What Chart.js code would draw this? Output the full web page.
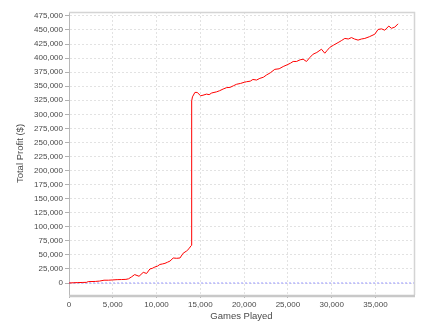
<!DOCTYPE html>
<html>
<head>
<meta charset="utf-8">
<script src="https://cdn.jsdelivr.net/npm/chart.js@4/dist/chart.umd.min.js"></script>
<style>
  body { margin: 0; background: #fff; }
  canvas { display: block; }
</style>
</head>
<body>
<canvas id="grafico" width="435" height="332"></canvas>
<script>
// dados
const games = [0, 500, 1000, 1500, 2000, 2200, 3000, 3500, 4000, 4500, 5000, 5500, 6000, 6500, 6800,
  7150, 7500, 8000, 8480, 8860, 9240, 9500, 9810, 10100, 10380, 10700, 10960, 11250, 11530, 11900,
  12300, 12670, 13040, 13430, 13700, 13920, 14000, 14010, 14100, 14380, 14640, 15030, 15300, 15710,
  16000, 16300, 16850, 17200, 17600, 18000, 18400, 18800, 19140, 19600, 20000, 20280, 20700, 21000,
  21420, 21800, 22200, 22560, 23000, 23500, 24000, 24460, 24900, 25300, 25600, 25980, 26400, 26740,
  27120, 27500, 27880, 28300, 28830, 29210, 29500, 29780, 30200, 30730, 31100, 31500, 31900, 32260,
  32600, 33010, 33400, 33780, 34300, 34920, 35300, 35700, 36060, 36520, 36820, 37200, 37580];
const profit = [0, 500, 800, 1000, 1200, 2500, 2800, 3500, 5000, 5000, 5500, 6000, 6200, 6500, 7500,
  11000, 15000, 12000, 19000, 17000, 25000, 26000, 28500, 30000, 33000, 34000, 35000, 37000, 39000, 44500,
  44000, 44500, 53000, 57000, 61000, 66000, 67000, 324000, 331000, 339000, 339000, 333000, 334000, 336000,
  335000, 338000, 340000, 342000, 345000, 347500, 348000, 351000, 353500, 355000, 357000, 358000, 359000, 362000,
  361000, 364000, 366000, 370000, 374000, 380000, 381000, 385000, 388000, 391000, 394000, 394000, 397000, 398000,
  394000, 401000, 407000, 410000, 415800, 408700, 414000, 419000, 423000, 427600, 431000, 435000, 434000, 436500,
  434000, 432000, 434000, 435000, 438000, 442500, 451000, 452000, 449600, 457000, 453000, 455000, 461000];

const xTicks = [0, 5000, 10000, 15000, 20000, 25000, 30000, 35000];
const yTicks = [0, 25000, 50000, 75000, 100000, 125000, 150000, 175000, 200000, 225000, 250000,
  275000, 300000, 325000, 350000, 375000, 400000, 425000, 450000, 475000];
const xMin = 0, xMax = 39400;
const yMin = -21300, yMax = 482000;

const corTexto = '#4a4a4a';
const corGrade = '#e2e2e2';

// moldura cinzenta à volta da área do gráfico
const moldura = {
  id: 'moldura',
  afterDraw(chart) {
    const { ctx, chartArea: a } = chart;
    ctx.save();
    ctx.strokeStyle = '#d4d4d4';
    ctx.lineWidth = 1.5;
    ctx.beginPath();
    ctx.moveTo(a.left, a.top + 0.5);
    ctx.lineTo(a.right + 0.5, a.top + 0.5);
    ctx.lineTo(a.right + 0.5, a.bottom);
    ctx.stroke();
    ctx.strokeStyle = '#c8c8c8';
    ctx.lineWidth = 2.5;
    ctx.beginPath();
    ctx.moveTo(a.left, a.bottom + 1);
    ctx.lineTo(a.right + 1, a.bottom + 1);
    ctx.stroke();
    ctx.restore();
  }
};

new Chart(document.getElementById('grafico'), {
  type: 'line',
  data: {
    datasets: [{
      data: games.map((g, i) => ({ x: g, y: profit[i] })),
      borderColor: '#ff0000',
      borderWidth: 1,
      pointRadius: 0,
      tension: 0,
      order: 1
    }, {
      data: [{ x: xMin, y: 0 }, { x: xMax, y: 0 }],
      borderColor: '#9a9aff',
      borderWidth: 1,
      borderDash: [2, 2],
      pointRadius: 0,
      order: 2
    }]
  },
  options: {
    responsive: false,
    animation: false,
    layout: { padding: { top: 12, right: 21, left: 0, bottom: 0 } },
    plugins: { legend: { display: false }, tooltip: { enabled: false } },
    scales: {
      x: {
        type: 'linear',
        min: xMin,
        max: xMax,
        afterBuildTicks: s => { s.ticks = xTicks.map(v => ({ value: v })); },
        afterFit: s => { s.height = 37; },
        grid: { color: corGrade, lineWidth: 1, tickLength: 3, tickColor: '#b0b0b0' },
        border: { display: false, dash: [2, 2] },
        ticks: {
          color: corTexto,
          padding: 2,
          maxRotation: 0,
          font: { family: 'Liberation Sans', size: 8 },
          callback: v => Number(v).toLocaleString('en-US')
        },
        title: {
          display: true,
          text: 'Games Played',
          color: corTexto,
          font: { family: 'Liberation Sans', size: 9.5 },
          padding: { top: 0, bottom: 10 }
        }
      },
      y: {
        min: yMin,
        max: yMax,
        afterBuildTicks: s => { s.ticks = yTicks.map(v => ({ value: v })); },
        afterFit: s => { s.width = 69; },
        grid: { color: corGrade, lineWidth: 1, tickLength: 4, tickColor: '#b0b0b0' },
        border: { display: true, color: '#b8b8b8', width: 1, dash: [2, 2] },
        ticks: {
          color: corTexto,
          padding: 2,
          font: { family: 'Liberation Sans', size: 8 },
          callback: v => Number(v).toLocaleString('en-US')
        },
        title: {
          display: true,
          text: 'Total Profit ($)',
          color: corTexto,
          font: { family: 'Liberation Sans', size: 9.5 },
          padding: { top: 15, bottom: 0 }
        }
      }
    }
  },
  plugins: [moldura]
});
</script>
</body>
</html>
